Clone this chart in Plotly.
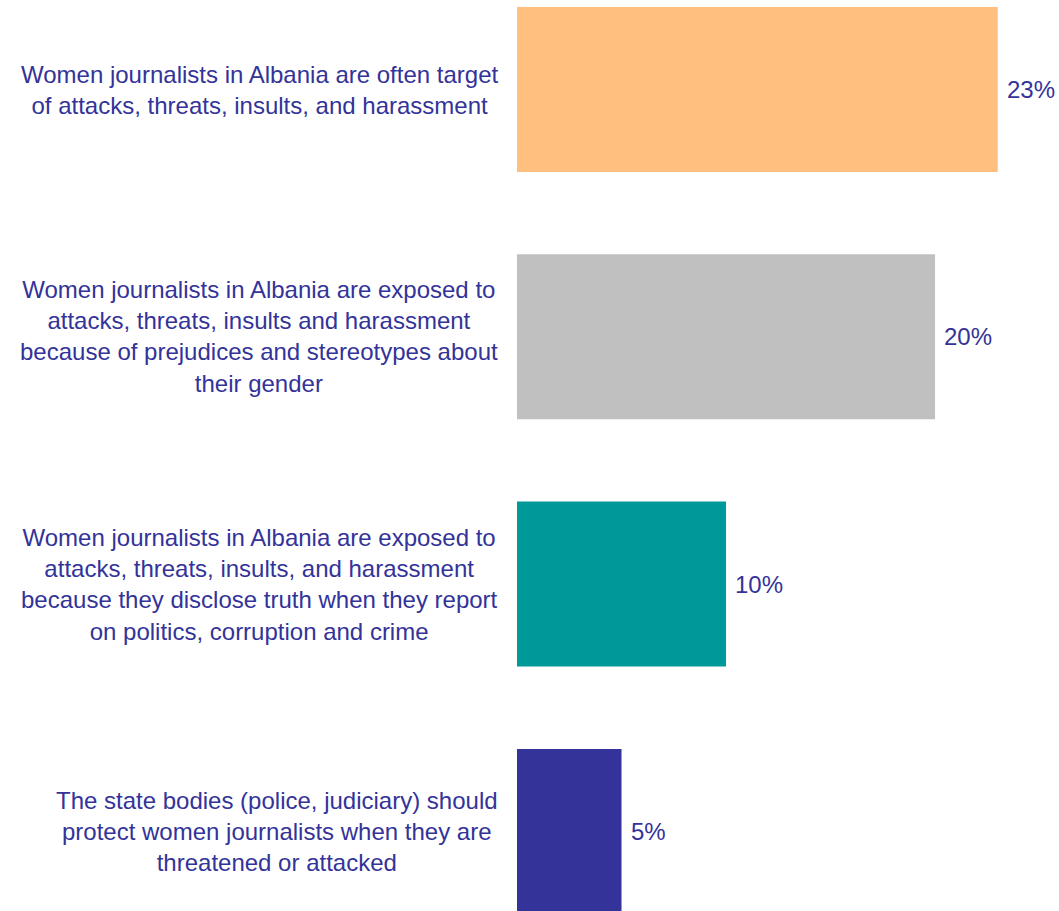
import plotly.graph_objects as go

# Survey statements (top to bottom) and share of respondents
statements = [
    "Women journalists in Albania are often target<br>of attacks, threats, insults, and harassment",
    "Women journalists in Albania are exposed to<br>attacks, threats, insults and harassment<br>because of prejudices and stereotypes about<br>their gender",
    "Women journalists in Albania are exposed to<br>attacks, threats, insults, and harassment<br>because they disclose truth when they report<br>on politics, corruption and crime",
    "The state bodies (police, judiciary) should<br>protect women journalists when they are<br>threatened or attacked",
]
shares = [23, 20, 10, 5]
value_labels = ["23%", "20%", "10%", "5%"]
bar_colors = ["#FFBF7F", "#C0C0C0", "#009999", "#333399"]

TEXT_COLOR = "#333399"
FONT = "Liberation Sans, Arial, sans-serif"

positions = list(range(len(statements)))

fig = go.Figure(
    go.Bar(
        x=shares,
        y=positions,
        orientation="h",
        marker=dict(color=bar_colors, line=dict(width=0)),
        width=0.667,
        hoverinfo="skip",
    )
)

annotations = []
for pos, txt, val, lab in zip(positions, statements, shares, value_labels):
    # statement text to the left of the plot, centred lines
    annotations.append(dict(
        x=0, xref="paper", y=pos, yref="y",
        text=txt, showarrow=False,
        xanchor="right", yanchor="middle", align="center",
        xshift=-17,
        font=dict(family=FONT, size=24, color=TEXT_COLOR),
    ))
    # value label at the end of each bar
    annotations.append(dict(
        x=val, xref="x", y=pos, yref="y",
        text=lab, showarrow=False,
        xanchor="left", yanchor="middle",
        xshift=7,
        font=dict(family=FONT, size=24, color=TEXT_COLOR),
    ))

fig.update_layout(
    width=1059,
    height=911,
    margin=dict(l=517, r=0, t=0, b=0),
    paper_bgcolor="white",
    plot_bgcolor="white",
    showlegend=False,
    bargap=0.333,
    xaxis=dict(range=[0, 25.93], visible=False, fixedrange=True),
    yaxis=dict(range=[3.322, -0.362], visible=False, fixedrange=True),
    annotations=annotations,
    font=dict(family=FONT, color=TEXT_COLOR),
)

fig.write_html("out.html", config={"displayModeBar": False})
